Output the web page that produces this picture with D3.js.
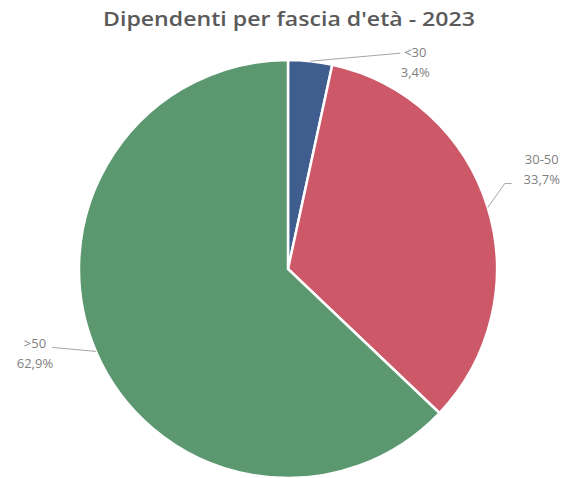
<!DOCTYPE html>
<html>
<head>
<meta charset="utf-8">
<script src="https://cdn.jsdelivr.net/npm/d3@7"></script>
<style>
  body { margin: 0; background: #fff; }
  text { font-family: "Open Sans", "Noto Sans", sans-serif; }
</style>
</head>
<body>
<svg id="chart" width="562" height="478"></svg>
<script>
var categories = ["<30", "30-50", ">50"];
var values = [3.4, 33.7, 62.9];
var valueLabels = ["3,4%", "33,7%", "62,9%"];
var colors = ["#3f5e8f", "#cd5868", "#5b9870"];
var title = "Dipendenti per fascia d'età - 2023";

// where each label sits relative to the slice edge (px offsets)
var labelLayout = [
  {line: [[90, -8]], tx: 105, ty: -4},
  {line: [[17, -24], [24, -24]], tx: 54, ty: -44},
  {line: [[-44, -4]], tx: -61, ty: -3}
];

var width = 562, height = 478,
    cx = 288, cy = 269, radius = 209;

var svg = d3.select("#chart");

svg.append("text")
    .attr("x", 289)
    .attr("y", 26)
    .attr("text-anchor", "middle")
    .attr("textLength", 372)
    .attr("lengthAdjust", "spacingAndGlyphs")
    .style("font-size", "20px")
    .style("font-weight", "600")
    .style("fill", "#5a5a5a")
    .text(title);

var pie = d3.pie().sort(null).value(function(d) { return d; });
var arc = d3.arc().innerRadius(0).outerRadius(radius);
var arcs = pie(values);

var g = svg.append("g").attr("transform", "translate(" + cx + "," + cy + ")");

g.selectAll("path")
    .data(arcs)
  .enter().append("path")
    .attr("d", arc)
    .attr("fill", function(d, i) { return colors[i]; })
    .attr("stroke", "#fff")
    .attr("stroke-width", 2.5);

//labels with leader lines
arcs.forEach(function(d, i) {
  var mid = (d.startAngle + d.endAngle) / 2;
  var ex = Math.sin(mid) * radius, ey = -Math.cos(mid) * radius;
  var lay = labelLayout[i];
  var pts = [[ex, ey]].concat(lay.line.map(function(p) { return [ex + p[0], ey + p[1]]; }));

  g.append("path")
      .attr("d", d3.line()(pts))
      .attr("fill", "none")
      .attr("stroke", "#a6a6a6")
      .attr("stroke-width", 1);

  var t = g.append("text")
      .attr("text-anchor", "middle")
      .style("font-size", "13px")
      .style("fill", "#7f7f7f");
  t.append("tspan").attr("x", ex + lay.tx).attr("y", ey + lay.ty).text(categories[i]);
  t.append("tspan").attr("x", ex + lay.tx).attr("y", ey + lay.ty + 20).text(valueLabels[i]);
});
</script>
</body>
</html>
